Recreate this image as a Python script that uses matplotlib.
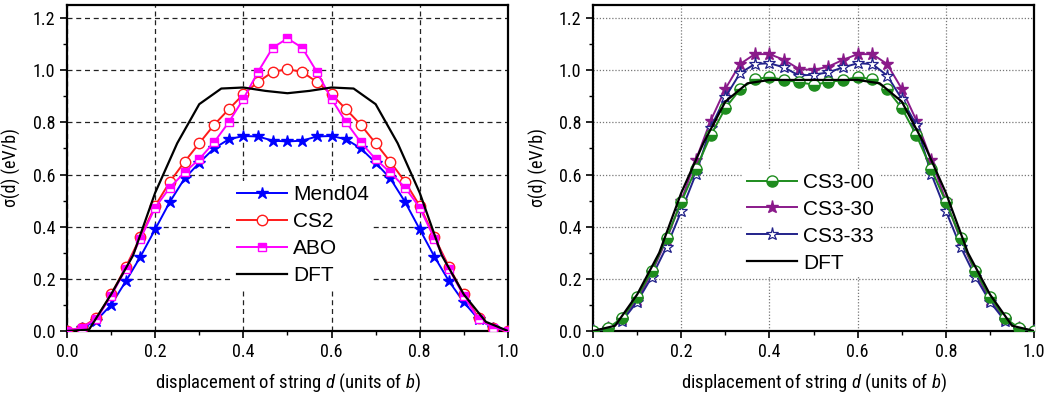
import numpy as np
import matplotlib
matplotlib.use('Agg')
from matplotlib import pyplot as plt
from matplotlib.ticker import MultipleLocator, FormatStrFormatter

plt.rcParams['font.family'] = ['Roboto Condensed', 'DejaVu Sans']
plt.rcParams['mathtext.fontset'] = 'custom'
plt.rcParams['mathtext.it'] = 'Roboto Condensed:italic'
plt.rcParams['mathtext.rm'] = 'Roboto Condensed'

# sampling grid of the atomistic curves (units of b)
x_pts = [0.0, 0.0333, 0.0667, 0.1, 0.1333, 0.1667, 0.2, 0.2333, 0.2667, 0.3, 0.3333,
         0.3667, 0.4, 0.4333, 0.4667, 0.5, 0.5333, 0.5667, 0.6, 0.6333, 0.6667,
         0.7, 0.7333, 0.7667, 0.8, 0.8333, 0.8667, 0.9, 0.9333, 0.9667, 1.0]
x_dft = [0.0, 0.05, 0.1, 0.15, 0.2, 0.25, 0.3, 0.35, 0.4, 0.45, 0.5,
         0.55, 0.6, 0.65, 0.7, 0.75, 0.8, 0.85, 0.9, 0.95, 1.0]

# left panel
mend04 = [0, 0.01, 0.04, 0.10, 0.19, 0.285, 0.39, 0.495, 0.585, 0.645, 0.70,
          0.735, 0.748, 0.746, 0.73, 0.727, 0.73, 0.746, 0.748, 0.735, 0.70,
          0.645, 0.585, 0.495, 0.39, 0.285, 0.19, 0.11, 0.045, 0.012, 0]
cs2 = [0, 0.013, 0.05, 0.14, 0.245, 0.36, 0.48, 0.572, 0.649, 0.72, 0.79,
       0.85, 0.908, 0.955, 0.994, 1.004, 0.994, 0.955, 0.908, 0.85, 0.79,
       0.72, 0.649, 0.572, 0.48, 0.36, 0.245, 0.14, 0.05, 0.013, 0]
abo = [0, 0.013, 0.045, 0.134, 0.237, 0.354, 0.473, 0.55, 0.608, 0.659, 0.723,
       0.80, 0.89, 0.994, 1.087, 1.122, 1.087, 0.994, 0.89, 0.80, 0.723,
       0.659, 0.608, 0.55, 0.473, 0.354, 0.237, 0.134, 0.045, 0.013, 0]
dft_left = [0, 0.005, 0.14, 0.29, 0.53, 0.72, 0.87, 0.93, 0.934, 0.921, 0.912,
            0.921, 0.934, 0.93, 0.87, 0.72, 0.53, 0.29, 0.14, 0.035, 0]

# right panel
cs3_00 = [0, 0.01, 0.051, 0.131, 0.231, 0.358, 0.495, 0.622, 0.75, 0.855, 0.927,
          0.966, 0.974, 0.963, 0.954, 0.945, 0.954, 0.963, 0.974, 0.966, 0.927,
          0.855, 0.75, 0.622, 0.495, 0.358, 0.231, 0.131, 0.051, 0.01, 0]
cs3_30 = [0, 0.01, 0.045, 0.12, 0.225, 0.35, 0.50, 0.657, 0.807, 0.929, 1.024,
          1.062, 1.062, 1.04, 1.005, 1.001, 1.014, 1.04, 1.062, 1.062, 1.024,
          0.929, 0.807, 0.657, 0.50, 0.35, 0.225, 0.12, 0.045, 0.01, 0]
cs3_33 = [0, 0.008, 0.04, 0.112, 0.208, 0.323, 0.46, 0.603, 0.78, 0.897, 0.989,
          1.024, 1.027, 1.011, 0.98, 0.983, 0.992, 1.011, 1.027, 1.024, 0.98,
          0.89, 0.79, 0.603, 0.46, 0.323, 0.208, 0.112, 0.04, 0.008, 0]
dft_right = [0, 0.02, 0.14, 0.30, 0.53, 0.72, 0.88, 0.95, 0.963, 0.963, 0.963,
             0.963, 0.963, 0.95, 0.88, 0.72, 0.53, 0.30, 0.14, 0.02, 0]

fig = plt.figure(figsize=(10.46, 3.94), dpi=100)
ax1 = fig.add_axes([0.064, 0.160, 0.4216, 0.827])
ax2 = fig.add_axes([0.567, 0.160, 0.4216, 0.827])

lw = 1.4
ax1.plot(x_pts, mend04, color='#0000ff', lw=lw, marker='*', ms=9, mfc='#0000ff', mec='#0000ff', label='Mend04', zorder=3)
ax1.plot(x_pts, cs2, color='#ff1a1a', lw=lw, marker='o', ms=7.5, mfc='white', mec='#ff1a1a', mew=1.0, label='CS2', zorder=3)
ax1.plot(x_pts, abo, color='#ff00ff', lw=lw, marker='s', ms=6, mfc='#ff00ff', mfcalt='white', fillstyle='top', mec='#ff00ff', label='ABO', zorder=4)
ax1.plot(x_dft, dft_left, color='black', lw=1.6, label='DFT', zorder=5)

ax2.plot(x_pts, cs3_00, color='#1e8c1e', lw=lw, marker='o', ms=8, mfc='#1e8c1e', mfcalt='white', fillstyle='bottom', mec='#1e8c1e', label='CS3-00', zorder=4)
ax2.plot(x_pts, cs3_30, color='#8a1a8a', lw=lw, marker='*', ms=9.5, mfc='#8a1a8a', mec='#8a1a8a', label='CS3-30', zorder=3)
ax2.plot(x_pts, cs3_33, color='#22228a', lw=lw, marker='*', ms=9.5, mfc='white', mec='#22228a', mew=0.9, label='CS3-33', zorder=3)
ax2.plot(x_dft, dft_right, color='black', lw=1.6, label='DFT', zorder=5)

for ax in (ax1, ax2):
    ax.set_xlim(0, 1.0)
    ax.set_ylim(0, 1.25)
    ax.xaxis.set_major_locator(MultipleLocator(0.2))
    ax.xaxis.set_minor_locator(MultipleLocator(0.1))
    ax.yaxis.set_major_locator(MultipleLocator(0.2))
    ax.yaxis.set_minor_locator(MultipleLocator(0.1))
    ax.xaxis.set_major_formatter(FormatStrFormatter('%.1f'))
    ax.yaxis.set_major_formatter(FormatStrFormatter('%.1f'))
    ax.tick_params(which='major', direction='out', length=5, width=1.2, labelsize=13)
    ax.tick_params(which='minor', direction='out', length=3, width=1.0)
    for s in ax.spines.values():
        s.set_linewidth(1.6)
    ax.set_xlabel(r'displacement of string $d$ (units of $b$)', fontsize=13.5, labelpad=8)
    ax.set_ylabel(r'σ(d) (eV/b)', fontsize=13, labelpad=8)

ax1.grid(True, which='major', color='#222222', lw=0.9, linestyle=(0, (4, 3)))
ax2.grid(True, which='major', color='#777777', lw=0.9, linestyle=(0, (1, 1.5)))
ax1.set_axisbelow(True)
ax2.set_axisbelow(True)

leg_kw = dict(loc='upper left', frameon=True, fancybox=False, framealpha=1,
              edgecolor='none', facecolor='white', handlelength=2.4,
              handletextpad=0.3, labelspacing=0.38, borderpad=0.2,
              borderaxespad=0, prop={'family': 'Liberation Sans', 'size': 15})
l1 = ax1.legend(bbox_to_anchor=(0.376, 0.46), **leg_kw)
l2 = ax2.legend(bbox_to_anchor=(0.340, 0.498), **leg_kw)
l1.set_zorder(10)
l2.set_zorder(10)

fig.savefig('out.png', dpi=100)
